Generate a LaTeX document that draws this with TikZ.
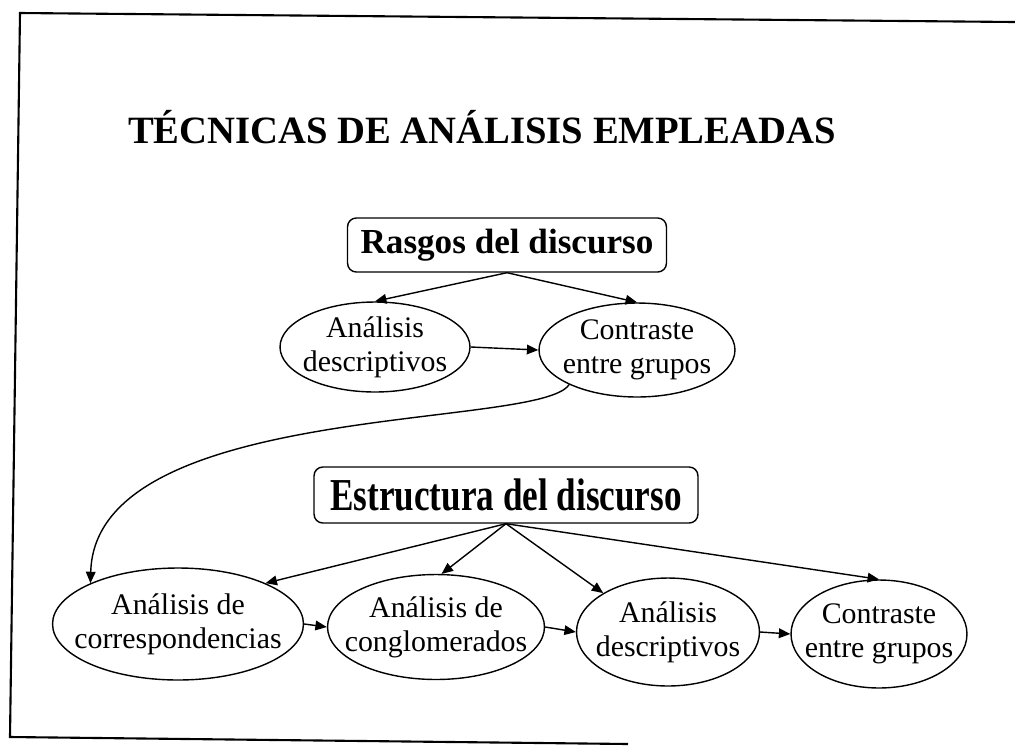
\documentclass[tikz,border=0pt]{standalone}
\usepackage{graphicx}
\usepackage{fontspec}
\setmainfont{Liberation Serif}
\usetikzlibrary{shapes.geometric, arrows.meta}
\tikzstyle{heading} = [rectangle, rounded corners=5pt, draw=black, line width=0.8pt, font=\fontsize{20}{24}\selectfont\bfseries]
\tikzstyle{oval} = [ellipse, draw=black, line width=0.8pt, align=center, inner sep=-2cm, font=\fontsize{17}{19.5}\selectfont]
\tikzstyle{arrow} = [line width=0.8pt,-{Triangle[length=6.5pt,width=5.5pt]}]

\begin{document}
\begin{tikzpicture}[x=0.02cm, y=-0.02cm]
\useasboundingbox (0,0) rectangle (1015,745);
% frame
\draw [line width=1.2pt] (1015,22) -- (20,13) -- (10,737) -- (628,744);

\node (title) [anchor=base, font=\fontsize{22}{26}\selectfont\bfseries] at (482,143) {TÉCNICAS DE ANÁLISIS EMPLEADAS};

% rasgos
\node (rasgos) [heading, minimum width=6.38cm, minimum height=1.08cm] at (507,245) {Rasgos del discurso};
\node (ad) [oval, minimum width=3.8cm, minimum height=1.8cm] at (375,347) {Análisis\\descriptivos};
\node (rc) [oval, minimum width=3.92cm, minimum height=1.88cm] at (637,350) {Contraste\\entre grupos};
\draw [arrow] (rasgos.south) -- (ad.north);
\draw [arrow] (rasgos.south) -- (rc.north);
\draw [arrow] (ad.east) -- (rc.west);

% estructura
\node (estructura) [heading, minimum width=7.68cm, minimum height=1.12cm] at (506,495) {\scalebox{1}[1.3]{Estructura del discurso}};
\node (ca) [oval, minimum width=5.02cm, minimum height=2.24cm] at (178,624) {Análisis de\\correspondencias};
\node (cg) [oval, minimum width=4.34cm, minimum height=2.1cm] at (436,627) {Análisis de\\conglomerados};
\node (bd) [oval, minimum width=3.66cm, minimum height=2.16cm] at (668,632) {Análisis\\descriptivos};
\node (bc) [oval, minimum width=3.52cm, minimum height=2.16cm] at (879,634) {Contraste\\entre grupos};
\draw [arrow] (rc.207) .. controls (540,430) and (95,400) .. (ca.155);
\draw [arrow] (estructura.south) -- (ca.25);
\draw [arrow] (estructura.south) -- (cg.84);
\draw [arrow] (estructura.south) -- (bd.149);
\draw [arrow] (estructura.south) -- (bc.north);
\draw [arrow] (ca.east) -- (cg.west);
\draw [arrow] (cg.east) -- (bd.west);
\draw [arrow] (bd.east) -- (bc.west);
\end{tikzpicture}
\end{document}
